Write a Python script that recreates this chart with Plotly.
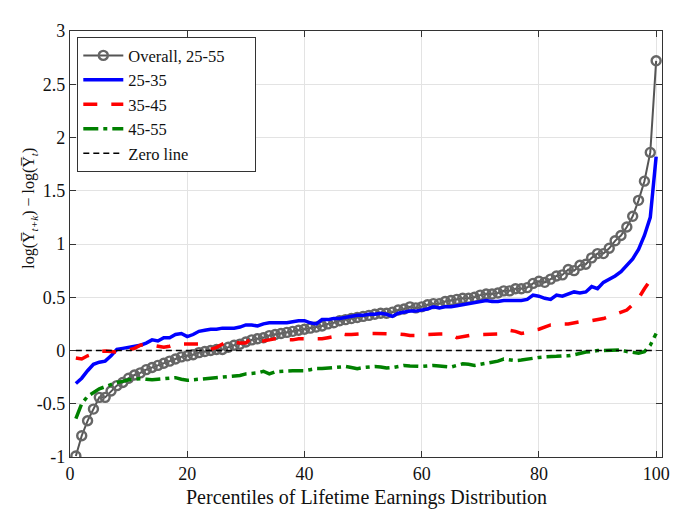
import plotly.graph_objects as go

percentiles = list(range(1, 101))

overall = [-0.99, -0.80, -0.66, -0.55, -0.44, -0.44, -0.38, -0.33, -0.30, -0.26,
           -0.23, -0.21, -0.18, -0.16, -0.14, -0.12, -0.10, -0.08, -0.06, -0.05,
           -0.04, -0.02, -0.01, 0.00, 0.01, 0.01, 0.03, 0.05, 0.06, 0.08,
           0.10, 0.11, 0.12, 0.14, 0.15, 0.16, 0.17, 0.18, 0.19, 0.20,
           0.21, 0.22, 0.23, 0.25, 0.26, 0.28, 0.29, 0.30, 0.31, 0.32,
           0.33, 0.34, 0.35, 0.35, 0.36, 0.38, 0.39, 0.41, 0.40, 0.41,
           0.43, 0.44, 0.44, 0.46, 0.47, 0.48, 0.49, 0.49, 0.50, 0.52,
           0.53, 0.53, 0.54, 0.56, 0.56, 0.58, 0.58, 0.59, 0.63, 0.65,
           0.64, 0.67, 0.70, 0.71, 0.76, 0.75, 0.80, 0.81, 0.87, 0.91,
           0.91, 0.96, 1.03, 1.08, 1.16, 1.26, 1.41, 1.59, 1.86, 2.72]

age_25_35 = [-0.31, -0.26, -0.19, -0.13, -0.11, -0.10, -0.05, 0.01, 0.02, 0.03,
             0.04, 0.05, 0.07, 0.10, 0.09, 0.12, 0.12, 0.15, 0.16, 0.13,
             0.15, 0.18, 0.19, 0.20, 0.20, 0.21, 0.21, 0.21, 0.22, 0.24,
             0.24, 0.23, 0.25, 0.26, 0.26, 0.26, 0.26, 0.27, 0.28, 0.28,
             0.26, 0.25, 0.29, 0.29, 0.30, 0.30, 0.31, 0.32, 0.33, 0.33,
             0.34, 0.34, 0.35, 0.34, 0.32, 0.35, 0.36, 0.37, 0.37, 0.38,
             0.39, 0.41, 0.40, 0.41, 0.41, 0.42, 0.43, 0.44, 0.45, 0.46,
             0.47, 0.46, 0.46, 0.47, 0.47, 0.47, 0.47, 0.48, 0.52, 0.51,
             0.49, 0.48, 0.52, 0.51, 0.53, 0.55, 0.54, 0.55, 0.60, 0.58,
             0.64, 0.67, 0.70, 0.74, 0.80, 0.86, 0.95, 1.08, 1.25, 1.82]

age_35_45 = [-0.07, -0.08, -0.05, -0.03, -0.01, -0.005, -0.01, -0.015, 0.0, 0.005,
             0.02, 0.05, 0.06, 0.05, 0.04, 0.03, 0.04, 0.06, 0.06, 0.06,
             0.06, 0.06, 0.04, 0.01, 0.03, 0.06, 0.09, 0.08, 0.07, 0.07,
             0.12, 0.10, 0.09, 0.10, 0.11, 0.11, 0.10, 0.10, 0.11, 0.11,
             0.11, 0.11, 0.11, 0.12, 0.13, 0.16, 0.15, 0.15, 0.155, 0.16,
             0.16, 0.16, 0.16, 0.16, 0.155, 0.155, 0.15, 0.14, 0.14, 0.15,
             0.15, 0.155, 0.155, 0.155, 0.15, 0.12, 0.13, 0.14, 0.15, 0.15,
             0.15, 0.155, 0.155, 0.17, 0.19, 0.18, 0.16, 0.17, 0.19, 0.20,
             0.22, 0.24, 0.24, 0.25, 0.25, 0.26, 0.27, 0.27, 0.28, 0.29,
             0.30, 0.32, 0.34, 0.36, 0.38, 0.43, 0.49, 0.58, 0.66, 0.70]

age_45_55 = [-0.64, -0.50, -0.43, -0.39, -0.36, -0.34, -0.32, -0.30, -0.29, -0.275,
             -0.27, -0.265, -0.27, -0.275, -0.27, -0.265, -0.26, -0.255, -0.27, -0.28,
             -0.275, -0.27, -0.27, -0.265, -0.26, -0.255, -0.25, -0.245, -0.235, -0.22,
             -0.215, -0.21, -0.195, -0.22, -0.20, -0.195, -0.19, -0.19, -0.19, -0.19,
             -0.18, -0.17, -0.17, -0.165, -0.165, -0.155, -0.15, -0.16, -0.17, -0.16,
             -0.155, -0.15, -0.155, -0.165, -0.16, -0.15, -0.14, -0.145, -0.15, -0.15,
             -0.145, -0.14, -0.145, -0.15, -0.155, -0.14, -0.125, -0.13, -0.14, -0.13,
             -0.12, -0.11, -0.10, -0.08, -0.085, -0.095, -0.09, -0.08, -0.07, -0.065,
             -0.06, -0.06, -0.055, -0.05, -0.05, -0.04, -0.025, -0.015, -0.01, 0.0,
             0.0, 0.0, 0.005, 0.005, -0.01, -0.02, -0.025, -0.01, 0.05, 0.16]

zero_line = [0.0] * 100

series_names = ["Overall, 25-55", "25-35", "35-45", "45-55", "Zero line"]

x_tick_vals = [0, 20, 40, 60, 80, 100]
x_tick_text = ["0", "20", "40", "60", "80", "100"]
y_tick_vals = [-1, -0.5, 0, 0.5, 1, 1.5, 2, 2.5, 3]
y_tick_text = ["-1", "-0.5", "0", "0.5", "1", "1.5", "2", "2.5", "3"]

x_title = "Percentiles of Lifetime Earnings Distribution"
y_title = "log(Y\u0305<sub><i>t+k</i></sub>) \u2212 log(Y\u0305<sub><i>t</i></sub>)"

FONT = "Liberation Serif"
PAD = "\u00a0" * 6  # widen legend box to match reference

fig = go.Figure()
fig.add_trace(go.Scatter(
    x=percentiles, y=overall, name=series_names[0] + PAD, mode="lines+markers",
    line=dict(color="#555555", width=2),
    marker=dict(symbol="circle-open", size=9, color="#666666", line=dict(width=2.4, color="#666666")),
))
fig.add_trace(go.Scatter(
    x=percentiles, y=age_25_35, name=series_names[1], mode="lines",
    line=dict(color="#0000ff", width=3.5),
))
fig.add_trace(go.Scatter(
    x=percentiles, y=age_35_45, name=series_names[2], mode="lines",
    line=dict(color="#ff0000", width=3.5, dash="14px,14px"),
))
fig.add_trace(go.Scatter(
    x=percentiles, y=age_45_55, name=series_names[3], mode="lines",
    line=dict(color="#008000", width=3.5, dash="15px,5px,4px,5px"),
))
fig.add_trace(go.Scatter(
    x=percentiles, y=zero_line, name=series_names[4], mode="lines",
    line=dict(color="#000000", width=1.6, dash="6px,4px"),
))

axis_common = dict(
    showline=True, linecolor="#333333", linewidth=1.2, mirror="ticks",
    ticks="inside", ticklen=6, tickcolor="#333333",
    showgrid=True, gridcolor="#e3e3e3", gridwidth=1, zeroline=False,
    tickfont=dict(family=FONT, size=18, color="#111111"),
)

fig.update_layout(
    width=692, height=524,
    paper_bgcolor="white", plot_bgcolor="white",
    margin=dict(l=62, r=38, t=23, b=75),
    font=dict(family=FONT, size=18, color="#111111"),
    xaxis=dict(
        range=[0, 101], tickmode="array", tickvals=x_tick_vals, ticktext=x_tick_text,
        **axis_common,
    ),
    yaxis=dict(
        range=[-1, 3], tickmode="array", tickvals=y_tick_vals, ticktext=y_tick_text,
        **axis_common,
    ),
    legend=dict(
        x=0.012, y=0.986, xanchor="left", yanchor="top",
        bgcolor="white", bordercolor="#333333", borderwidth=1.2,
        font=dict(family=FONT, size=16.5, color="#111111"),
        tracegroupgap=0, itemwidth=40,
    ),
    showlegend=True,
    annotations=[
        dict(text=x_title, xref="paper", yref="paper", x=0.5, y=-0.094,
             xanchor="center", yanchor="middle", showarrow=False,
             font=dict(family=FONT, size=20, color="#111111")),
        dict(text=y_title, xref="paper", yref="paper", x=-0.0676, y=0.585,
             xanchor="center", yanchor="middle", showarrow=False, textangle=-90,
             font=dict(family=FONT, size=16, color="#111111")),
    ],
)

fig.write_html("out.html")
